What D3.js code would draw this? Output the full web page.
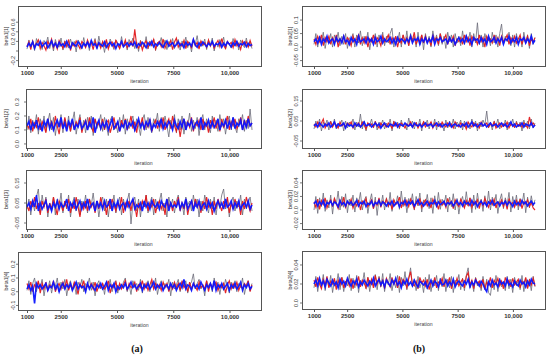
<!DOCTYPE html>
<html><head><meta charset="utf-8">
<script src="https://cdn.jsdelivr.net/npm/d3@7"></script>
<style>
html,body{margin:0;padding:0;background:#fff;}
svg{display:block;}
</style></head>
<body>
<svg id="chart" width="550" height="357"></svg>
<script>
// ---------- DATA ----------
const iterStart = 1000, iterEnd = 11000;
const xTicks = [1000, 2500, 5000, 7500, 10000];
const xTickLabels = ["1000", "2500", "5000", "7500", "10,000"];
const xAxisTitle = "iteration";
const panelNames = ["beta1[1]", "beta1[2]", "beta1[3]", "beta1[4]", "beta2[1]", "beta2[2]", "beta2[3]", "beta2[4]"];
const yLimits = [[-0.3125, 0.9375], [-0.029, 0.393], [-0.08, 0.215], [-0.133, 0.289],
                 [-0.07, 0.152], [-0.085, 0.21], [-0.028, 0.059], [-0.0063, 0.0547]];
const yTicks = [[-0.2, 0, 0.2, 0.4, 0.6], [0, 0.1, 0.2, 0.3], [-0.05, 0.05, 0.15], [-0.1, 0, 0.1, 0.2],
                [-0.05, 0, 0.05, 0.1], [-0.05, 0.05, 0.15], [-0.02, 0, 0.02, 0.04], [0, 0.02, 0.04]];
const yTickLabels = [["-0.2", "", "0.2", "0.4", "0.6"], ["0.0", "0.1", "0.2", "0.3"], ["-0.05", "0.05", "0.15"], ["-0.1", "0.0", "0.1", "0.2"],
                     ["-0.05", "0.0", "0.05", "0.1"], ["-0.05", "0.05", "0.15"], ["-0.02", "0.0", "0.02", "0.04"], ["0.0", "0.02", "0.04"]];
const subLabels = ["(a)", "(b)"];

// chain 1 (black), chain 2 (red), chain 3 (blue); thinned samples
const b11_c1 = [0.04,0.23,0.09,0.2,0.01,0.26,0.12,0.18,0.03,0.22,0.14,0.29,0.05,0.19,0.0,0.24,0.11,0.08,0.27,0.02,0.21,0.15,0.06,0.25,0.1,0.2,-0.02,0.23,0.16,0.04,0.28,0.08,0.19,0.01,0.22,0.13,0.26,0.05,0.31,0.1,0.18,-0.03,0.21,0.07,0.25,0.14,0.03,0.23,0.17,0.06,0.3,0.09,0.2,0.02,0.24,0.12,0.27,0.05,0.19,-0.01,0.22,0.15,0.08,0.3,0.04,0.21,0.1,0.25,0.01,0.18,0.13,0.28,0.06,0.23,0.03,0.2,0.09,0.26,0.05,0.17,0.24,0.02,0.21,0.11,0.29,0.07,0.19,-0.02,0.23,0.14,0.32,0.06,0.2,0.1,0.25,0.03,0.22,0.13,0.27,0.0,0.18,0.08,0.24,0.12,0.29,0.04,0.2,0.15,0.06,0.26,0.1,0.21,0.02,0.23,0.14,0.07,0.27,0.09,0.2,0.05];
const b11_c2 = [0.1,0.19,0.03,0.21,0.08,0.16,0.23,0.05,0.18,0.11,0.02,0.2,0.12,0.25,0.07,0.17,0.04,0.22,0.14,0.06,0.19,0.09,0.24,0.01,0.16,0.1,0.21,0.13,0.05,0.2,0.15,0.07,0.23,0.12,0.18,0.03,0.21,0.09,0.17,0.06,0.2,0.11,0.24,0.04,0.16,0.19,0.08,0.22,0.13,0.05,0.18,0.1,0.23,0.07,0.15,0.2,0.09,0.45,0.12,0.06,0.19,0.02,0.15,0.21,0.07,0.18,0.12,0.24,0.04,0.16,0.2,0.09,0.25,0.06,0.17,0.13,0.22,0.03,0.19,0.27,0.08,0.16,0.1,0.22,0.05,0.2,0.14,0.07,0.24,0.11,0.18,0.04,0.21,0.13,0.17,0.08,0.23,0.1,0.19,0.06,0.15,0.22,0.09,0.26,0.12,0.05,0.2,0.14,0.18,0.07,0.24,0.11,0.16,0.03,0.21,0.13,0.19,0.08,0.22,0.1];
const b11_c3 = [0.08,0.16,0.1,0.19,0.06,0.15,0.12,0.2,0.09,0.14,0.18,0.07,0.13,0.21,0.1,0.16,0.08,0.18,0.11,0.15,0.09,0.2,0.12,0.06,0.17,0.13,0.1,0.19,0.14,0.07,0.16,0.11,0.18,0.09,0.22,0.12,0.15,0.06,0.17,0.13,0.1,0.19,0.08,0.14,0.18,0.11,0.16,0.05,0.15,0.12,0.2,0.09,0.13,0.17,0.1,0.16,0.12,0.19,0.08,0.15,0.11,0.18,0.14,0.07,0.17,0.12,0.2,0.09,0.15,0.11,0.18,0.13,0.08,0.16,0.21,0.1,0.14,0.17,0.09,0.13,0.19,0.11,0.15,0.07,0.18,0.12,0.16,0.1,0.24,0.13,0.08,0.17,0.11,0.19,0.14,0.09,0.16,0.12,0.2,0.1,0.15,0.13,0.18,0.08,0.16,0.11,0.19,0.14,0.09,0.17,0.12,0.2,0.1,0.15,0.13,0.18,0.09,0.16,0.11,0.14];

const b12_c1 = [0.1,0.2,0.08,0.17,0.12,0.21,0.07,0.18,0.11,0.2,0.09,0.16,0.22,0.1,0.19,0.06,0.17,0.13,0.21,0.08,0.18,0.11,0.2,0.09,0.16,0.23,0.07,0.15,0.21,0.1,0.17,0.08,0.19,0.12,0.2,0.06,0.18,0.11,0.15,0.21,0.09,0.19,0.13,0.06,0.17,0.2,0.1,0.15,0.08,0.19,0.12,0.21,0.07,0.18,0.11,0.16,0.2,0.09,0.18,0.13,0.06,0.17,0.21,0.1,0.19,0.12,0.08,0.18,0.14,0.22,0.09,0.19,0.11,0.2,0.13,0.05,0.17,0.12,0.21,0.08,0.18,0.1,0.2,0.07,0.16,0.13,0.22,0.09,0.17,0.11,0.19,0.06,0.16,0.21,0.1,0.18,0.13,0.08,0.2,0.11,0.17,0.09,0.21,0.12,0.18,0.07,0.16,0.2,0.1,0.19,0.12,0.08,0.18,0.14,0.21,0.09,0.17,0.11,0.25,0.1];
const b12_c2 = [0.14,0.11,0.18,0.09,0.15,0.12,0.19,0.1,0.16,0.13,0.08,0.18,0.12,0.16,0.1,0.2,0.13,0.07,0.17,0.11,0.19,0.12,0.15,0.09,0.17,0.11,0.16,0.13,0.19,0.08,0.14,0.17,0.1,0.19,0.12,0.09,0.18,0.13,0.15,0.11,0.18,0.1,0.15,0.17,0.08,0.13,0.19,0.11,0.16,0.09,0.17,0.12,0.18,0.1,0.14,0.2,0.11,0.16,0.08,0.17,0.13,0.19,0.1,0.15,0.12,0.18,0.09,0.14,0.17,0.11,0.16,0.12,0.19,0.1,0.15,0.18,0.11,0.2,0.13,0.09,0.15,0.05,0.14,0.18,0.1,0.16,0.12,0.19,0.09,0.15,0.13,0.17,0.1,0.18,0.12,0.15,0.08,0.17,0.13,0.19,0.11,0.16,0.09,0.18,0.12,0.15,0.2,0.1,0.16,0.13,0.18,0.11,0.14,0.19,0.1,0.17,0.12,0.2,0.13,0.15];
const b12_c3 = [0.13,0.16,0.1,0.15,0.12,0.17,0.11,0.14,0.09,0.16,0.13,0.18,0.11,0.15,0.1,0.14,0.17,0.12,0.19,0.11,0.15,0.09,0.16,0.13,0.18,0.1,0.14,0.12,0.17,0.11,0.13,0.16,0.1,0.15,0.12,0.19,0.08,0.14,0.17,0.11,0.15,0.12,0.16,0.1,0.14,0.18,0.11,0.13,0.16,0.09,0.14,0.12,0.17,0.11,0.15,0.13,0.16,0.1,0.14,0.18,0.12,0.15,0.11,0.16,0.13,0.17,0.1,0.14,0.12,0.16,0.13,0.18,0.11,0.15,0.12,0.16,0.14,0.1,0.17,0.13,0.11,0.16,0.12,0.18,0.1,0.15,0.13,0.17,0.11,0.14,0.16,0.12,0.19,0.1,0.15,0.13,0.17,0.11,0.16,0.12,0.14,0.18,0.1,0.15,0.13,0.17,0.11,0.16,0.12,0.19,0.11,0.15,0.13,0.17,0.1,0.16,0.12,0.18,0.13,0.15];

const b13_c1 = [0.02,0.07,-0.01,0.06,0.01,0.08,0.12,0.0,0.09,0.03,0.08,-0.02,0.05,0.01,0.08,-0.01,0.07,0.03,0.1,0.0,0.06,0.02,0.09,-0.02,0.05,0.08,0.01,0.07,-0.01,0.06,0.03,0.09,0.0,0.07,0.04,0.1,0.02,0.06,-0.02,0.05,0.08,0.01,0.07,-0.02,0.06,0.03,0.09,0.0,0.05,0.08,-0.01,0.07,0.02,0.06,0.1,-0.055,0.05,0.08,0.01,0.07,-0.02,0.06,0.03,0.09,0.0,0.05,0.08,-0.01,0.07,0.02,0.06,0.1,0.01,0.05,-0.02,0.08,0.03,0.07,0.0,0.06,0.09,0.02,0.05,-0.01,0.08,0.04,0.06,0.01,0.09,0.03,0.07,-0.02,0.06,0.01,0.09,0.04,0.0,0.07,0.02,0.08,-0.01,0.06,0.03,0.09,0.12,0.02,0.07,-0.02,0.05,0.08,0.01,0.06,0.03,0.09,-0.01,0.07,0.02,0.05,0.08,0.01];
const b13_c2 = [0.04,0.01,0.06,0.03,0.08,0.02,0.05,-0.01,0.06,0.03,0.07,0.0,0.05,0.02,0.08,0.03,-0.01,0.06,0.04,0.01,0.06,0.03,0.07,0.0,0.05,0.02,0.08,0.03,-0.02,0.05,0.02,0.06,0.01,0.07,0.03,0.05,0.0,0.06,0.02,0.08,0.03,0.05,-0.01,0.06,0.02,0.07,0.04,0.01,0.05,0.03,0.08,0.0,0.05,0.03,0.06,0.01,0.07,0.04,-0.02,0.05,0.02,0.06,0.03,0.09,0.01,0.05,0.03,0.07,0.0,0.04,0.06,0.02,0.05,-0.01,0.07,0.03,0.05,0.01,0.06,0.03,0.08,0.01,0.05,0.02,0.07,-0.01,0.04,0.06,0.02,0.07,0.03,0.05,0.0,0.06,0.02,0.08,0.03,0.05,-0.01,0.06,0.02,0.07,0.04,0.01,0.06,0.03,0.08,0.0,0.05,0.02,0.07,0.03,0.05,-0.01,0.06,0.02,0.08,0.04,0.01,0.05];
const b13_c3 = [0.03,0.05,0.02,0.06,0.03,0.09,0.01,0.05,0.02,0.04,0.06,0.02,0.04,0.01,0.05,0.03,0.06,0.02,0.05,0.03,0.04,0.07,0.01,0.05,0.03,0.06,0.02,0.04,0.06,0.02,0.05,0.03,0.07,0.02,0.04,0.05,0.01,0.06,0.03,0.05,0.02,0.06,0.03,0.04,0.07,0.01,0.05,0.03,0.06,0.02,0.04,0.05,0.02,0.06,0.03,0.05,0.07,0.02,0.04,0.03,0.05,0.01,0.06,0.03,0.05,0.02,0.06,0.04,0.03,0.05,0.02,0.06,0.04,0.03,0.07,0.01,0.05,0.03,0.04,0.03,0.06,0.02,0.05,0.03,0.07,0.02,0.04,0.06,0.01,0.05,0.03,0.06,0.02,0.04,0.05,0.02,0.06,0.03,0.05,0.01,0.04,0.06,0.03,0.05,0.02,0.07,0.03,0.04,0.06,0.02,0.05,0.03,0.06,0.02,0.04,0.05,0.03,0.06,0.02,0.04];

const b14_c1 = [0.01,0.08,-0.02,0.06,0.1,0.0,0.07,0.03,0.09,-0.03,0.05,0.02,0.08,-0.01,0.06,0.04,0.1,0.0,0.07,0.02,0.09,-0.03,0.05,0.08,0.01,0.06,-0.02,0.07,0.03,0.09,0.0,0.06,0.04,0.1,0.01,0.07,-0.03,0.05,0.08,0.02,0.06,-0.02,0.07,0.03,0.09,0.0,0.05,0.08,-0.01,0.06,0.02,0.07,0.1,0.0,0.05,-0.02,0.08,0.03,0.06,0.01,0.09,-0.01,0.06,0.03,0.08,0.0,0.07,0.02,0.1,-0.02,0.05,0.08,0.01,0.06,0.03,0.09,-0.03,0.07,0.02,0.05,0.09,0.0,0.06,0.04,0.08,-0.01,0.05,0.07,0.13,0.02,0.06,0.09,0.02,0.05,-0.03,0.08,0.04,0.06,0.0,0.1,0.03,0.07,-0.02,0.06,0.01,0.09,0.04,-0.01,0.07,0.02,0.08,0.0,0.06,0.03,0.1,-0.02,0.05,0.08,0.01,0.06];
const b14_c2 = [0.06,0.02,0.07,0.0,0.05,0.03,0.08,-0.01,0.06,0.02,0.07,0.01,0.05,0.03,0.08,0.0,0.04,0.06,0.02,0.07,0.03,0.09,0.01,0.05,0.02,0.07,0.04,-0.02,0.06,0.03,0.08,0.01,0.05,0.03,0.06,0.02,0.07,0.0,0.05,0.03,0.06,0.02,0.04,0.08,-0.01,0.05,0.03,0.07,0.01,0.06,0.02,0.05,0.08,0.01,0.06,0.03,0.04,0.07,0.0,0.05,0.03,0.08,0.02,0.06,0.01,0.05,0.09,0.02,0.06,0.03,0.05,0.01,0.07,0.03,0.06,0.0,0.05,0.02,0.07,0.03,0.06,0.01,0.08,0.03,0.05,0.0,0.07,0.02,0.06,0.04,0.01,0.07,0.03,0.05,0.02,0.08,0.0,0.06,0.03,0.05,0.07,0.01,0.05,0.03,0.06,-0.01,0.05,0.08,0.02,0.06,0.03,0.07,0.01,0.05,0.02,0.06,0.04,0.08,0.0,0.05];
const b14_c3 = [0.02,0.05,0.01,0.04,-0.085,0.06,0.03,0.05,0.02,0.04,0.06,0.01,0.04,0.03,0.07,0.02,0.05,0.0,0.04,0.06,0.02,0.05,0.03,0.06,0.01,0.04,0.07,0.02,0.05,0.03,0.04,0.0,0.06,0.02,0.05,0.03,0.01,0.05,0.03,0.06,0.02,0.04,0.07,0.01,0.05,0.03,0.06,0.0,0.04,0.02,0.05,0.03,0.06,0.02,0.04,0.07,0.03,0.05,0.02,0.04,0.06,0.01,0.05,0.03,0.06,0.02,0.04,0.07,0.02,0.05,0.03,0.06,0.01,0.04,0.05,0.02,0.06,0.03,0.05,0.01,0.04,0.06,0.03,0.09,0.02,0.05,0.04,0.01,0.06,0.03,0.05,0.02,0.07,0.04,0.01,0.05,0.03,0.06,0.02,0.08,0.01,0.05,0.03,0.06,0.02,0.04,0.06,0.01,0.05,0.03,0.06,0.02,0.04,0.07,0.01,0.05,0.03,0.06,0.02,0.04];

const b21_c1 = [0.01,0.05,0.0,0.04,0.02,0.055,-0.005,0.035,0.015,0.05,0.0,0.045,0.02,0.055,0.005,0.04,0.01,0.05,-0.005,0.035,0.025,0.05,0.0,0.045,0.015,0.06,0.005,0.04,0.02,0.055,-0.01,0.035,0.015,0.05,0.0,0.045,0.02,0.055,0.005,0.04,0.015,0.05,0.07,0.0,0.04,0.02,0.055,0.0,0.045,0.01,0.06,0.005,0.05,0.02,0.04,0.0,0.055,0.01,0.045,-0.01,0.05,0.015,0.04,0.0,0.06,0.02,0.045,0.005,0.05,0.01,0.04,-0.005,0.055,0.02,0.045,0.0,0.05,0.015,0.04,0.005,0.06,0.01,0.045,0.02,0.055,0.0,0.05,0.015,0.09,0.01,0.045,0.0,0.05,0.02,0.04,0.005,0.055,0.015,0.045,0.0,0.05,0.085,0.01,0.04,0.02,0.055,0.005,0.045,0.0,0.05,0.015,0.04,0.0,0.055,0.015,0.045,-0.005,0.05,0.01,0.035];
const b21_c2 = [0.03,0.01,0.04,0.02,0.045,0.005,0.035,0.02,0.04,0.01,0.035,0.015,0.045,0.0,0.03,0.02,0.04,0.01,0.035,0.025,0.005,0.04,0.02,0.03,0.045,0.01,0.035,0.015,0.04,0.0,0.03,0.02,0.045,0.01,0.035,0.025,0.005,0.04,0.02,0.03,0.045,0.01,0.035,0.02,0.04,0.0,0.03,0.015,0.045,0.02,0.035,0.005,0.04,0.025,0.055,0.01,0.03,0.02,0.045,0.015,0.04,0.02,0.03,0.005,0.045,0.025,0.035,0.01,0.05,0.02,0.03,0.045,0.01,0.035,0.02,0.04,0.005,0.03,0.02,0.035,0.01,0.045,0.02,0.035,0.005,0.04,0.025,0.03,0.01,0.045,0.02,0.035,0.0,0.04,0.025,0.03,0.015,0.045,0.02,0.035,0.005,0.04,0.02,0.03,0.045,0.01,0.035,0.02,0.04,0.015,0.03,0.045,0.01,0.035,0.02,0.04,0.005,0.03,0.02,0.035];
const b21_c3 = [0.02,0.03,0.015,0.035,0.01,0.03,0.02,0.04,0.015,0.025,0.03,0.01,0.035,0.02,0.03,0.015,0.04,0.02,0.025,0.01,0.035,0.02,0.03,0.01,0.04,0.02,0.025,0.03,0.015,0.035,0.02,0.03,0.01,0.035,0.02,0.025,0.04,0.015,0.03,0.02,0.025,0.035,0.015,0.03,0.01,0.035,0.02,0.03,0.025,0.015,0.03,0.02,0.04,0.015,0.03,0.025,0.035,0.01,0.03,0.02,0.035,0.015,0.03,0.02,0.04,0.01,0.03,0.025,0.035,0.02,0.025,0.03,0.015,0.035,0.02,0.03,0.01,0.025,0.035,0.02,0.03,0.015,0.04,0.02,0.03,0.01,0.035,0.025,0.03,0.015,0.035,0.02,0.03,0.01,0.04,0.02,0.025,0.035,0.015,0.03,0.02,0.035,0.01,0.03,0.025,0.04,0.015,0.03,0.02,0.035,0.01,0.03,0.025,0.035,0.015,0.03,0.02,0.04,0.015,0.025];

const b22_c1 = [0.01,0.05,0.02,0.06,0.0,0.045,0.025,0.055,0.005,0.05,0.02,0.06,0.01,0.04,0.03,0.055,0.0,0.05,0.015,0.045,0.025,0.06,0.005,0.045,0.02,0.085,0.01,0.05,0.0,0.04,0.03,0.06,0.015,0.05,0.005,0.045,0.025,0.055,0.01,0.04,0.02,0.06,0.0,0.05,0.03,0.045,0.01,0.055,0.02,0.04,0.005,0.065,0.025,0.05,0.01,0.045,0.02,0.06,0.0,0.05,0.03,0.055,0.01,0.045,0.02,0.06,0.005,0.05,0.025,0.04,0.0,0.055,0.015,0.05,0.02,0.06,0.01,0.045,0.03,0.055,0.005,0.05,0.02,0.045,0.01,0.06,0.025,0.05,0.0,0.045,0.02,0.055,0.03,0.1,0.015,0.045,0.005,0.05,0.025,0.06,0.01,0.04,0.02,0.055,0.005,0.045,0.025,0.06,0.015,0.05,0.02,0.045,0.0,0.055,0.02,0.05,0.01,0.06,0.015,0.04];
const b22_c2 = [0.035,0.02,0.045,0.025,0.04,0.06,0.015,0.035,0.03,0.045,0.02,0.04,0.03,0.015,0.045,0.025,0.035,0.02,0.04,0.03,0.045,0.015,0.035,0.025,0.04,0.02,0.045,0.03,0.01,0.04,0.025,0.035,0.02,0.045,0.03,0.015,0.04,0.025,0.035,0.02,0.04,0.03,0.015,0.045,0.025,0.035,0.02,0.04,0.03,0.015,0.035,0.025,0.045,0.02,0.03,0.04,0.015,0.035,0.025,0.045,0.02,0.035,0.03,0.045,0.015,0.04,0.025,0.035,0.02,0.045,0.03,0.02,0.04,0.025,0.035,0.015,0.045,0.03,0.02,0.04,0.025,0.035,0.01,0.045,0.03,0.02,0.04,0.025,0.035,0.015,0.045,0.025,0.03,0.04,0.02,0.035,0.025,0.045,0.015,0.03,0.04,0.02,0.035,0.025,0.045,0.015,0.035,0.03,0.02,0.04,0.025,0.035,0.02,0.04,0.03,0.015,0.07,0.03,0.04,0.025];
const b22_c3 = [0.025,0.035,0.02,0.04,0.03,0.02,0.035,0.025,0.04,0.02,0.03,0.045,0.02,0.035,0.025,0.03,0.04,0.015,0.035,0.025,0.03,0.02,0.04,0.025,0.035,0.02,0.03,0.045,0.025,0.03,0.035,0.02,0.03,0.04,0.025,0.035,0.015,0.03,0.04,0.025,0.02,0.035,0.03,0.025,0.04,0.02,0.035,0.03,0.025,0.04,0.03,0.025,0.035,0.02,0.04,0.03,0.025,0.035,0.02,0.03,0.04,0.025,0.03,0.035,0.02,0.03,0.04,0.025,0.035,0.02,0.03,0.035,0.025,0.04,0.02,0.03,0.035,0.025,0.03,0.02,0.035,0.025,0.04,0.02,0.03,0.045,0.025,0.035,0.02,0.03,0.04,0.025,0.035,0.02,0.03,0.04,0.025,0.03,0.035,0.02,0.03,0.04,0.025,0.035,0.02,0.03,0.045,0.025,0.035,0.02,0.03,0.025,0.04,0.02,0.035,0.03,0.025,0.04,0.02,0.03];

const b23_c1 = [0.0,0.02,-0.005,0.018,0.005,0.025,-0.002,0.015,0.003,0.022,-0.006,0.018,0.008,0.028,0.0,0.02,0.004,0.024,-0.004,0.016,0.006,0.022,-0.003,0.018,0.01,0.026,0.0,0.014,0.02,-0.005,0.012,0.024,0.002,0.019,-0.008,0.016,0.006,0.022,0.0,0.018,0.004,0.026,-0.002,0.015,0.008,0.021,0.001,0.028,0.005,0.019,-0.004,0.017,0.009,0.024,0.0,0.02,0.006,0.025,-0.003,0.015,0.007,0.023,0.002,0.018,-0.005,0.021,0.004,0.026,0.001,0.016,0.008,0.022,-0.003,0.019,0.005,0.024,0.0,0.017,-0.006,0.012,0.02,0.003,0.027,0.006,0.018,-0.004,0.022,0.001,0.025,0.007,0.016,-0.002,0.021,0.004,0.028,0.0,0.019,0.006,0.023,-0.005,0.014,0.024,0.002,0.018,0.008,0.026,-0.003,0.02,0.005,0.022,0.0,0.017,0.009,0.025,-0.004,0.019,0.003,0.021,0.006,0.015];
const b23_c2 = [0.012,0.004,0.016,0.001,0.014,0.008,0.018,0.003,0.011,0.015,0.005,0.017,0.009,0.002,0.014,0.007,0.019,0.004,0.012,0.008,0.016,0.003,0.011,0.006,0.015,0.0,0.013,0.009,0.017,0.005,0.01,0.015,0.002,0.012,0.007,0.018,0.004,0.013,0.009,0.016,0.006,0.012,0.001,0.015,0.008,0.011,0.019,0.003,0.013,0.007,0.014,0.005,0.016,0.009,0.002,0.013,0.008,0.017,0.004,0.011,0.015,0.006,0.012,0.003,0.016,0.009,0.011,0.001,0.014,0.007,0.012,0.004,0.017,0.008,0.013,0.002,0.015,0.009,0.005,0.016,0.01,0.003,0.014,0.007,0.018,0.004,0.012,0.009,0.015,0.002,0.013,0.006,0.017,0.01,0.004,0.014,0.008,0.016,0.003,0.012,0.009,0.015,0.005,0.013,0.001,0.017,0.008,0.011,0.004,0.014,0.007,0.016,0.002,0.012,0.009,0.015,0.005,0.011,0.003,0.0];
const b23_c3 = [0.009,0.013,0.006,0.012,0.008,0.014,0.005,0.011,0.009,0.013,0.007,0.012,0.01,0.005,0.014,0.008,0.011,0.006,0.013,0.009,0.012,0.007,0.01,0.014,0.006,0.011,0.009,0.013,0.005,0.01,0.008,0.013,0.006,0.011,0.009,0.014,0.007,0.012,0.01,0.006,0.011,0.008,0.013,0.006,0.01,0.012,0.005,0.011,0.009,0.014,0.007,0.012,0.009,0.013,0.006,0.01,0.015,0.008,0.011,0.006,0.01,0.013,0.007,0.011,0.009,0.014,0.006,0.012,0.008,0.01,0.013,0.007,0.011,0.009,0.012,0.006,0.01,0.014,0.008,0.011,0.006,0.013,0.009,0.011,0.007,0.014,0.008,0.012,0.005,0.01,0.013,0.008,0.011,0.006,0.012,0.009,0.014,0.007,0.01,0.012,0.006,0.011,0.009,0.013,0.007,0.012,0.01,0.005,0.013,0.008,0.011,0.007,0.014,0.009,0.012,0.006,0.01,0.013,0.008,0.011];

const b24_c1 = [0.016,0.028,0.012,0.025,0.018,0.03,0.013,0.026,0.017,0.029,0.011,0.024,0.019,0.031,0.014,0.027,0.012,0.023,0.018,0.03,0.013,0.026,0.016,0.029,0.011,0.024,0.02,0.032,0.015,0.027,0.012,0.025,0.018,0.03,0.014,0.028,0.017,0.031,0.012,0.026,0.019,0.031,0.013,0.024,0.016,0.029,0.011,0.027,0.018,0.033,0.014,0.026,0.037,0.017,0.025,0.013,0.028,0.016,0.023,0.011,0.027,0.015,0.03,0.012,0.024,0.018,0.029,0.013,0.026,0.017,0.031,0.012,0.025,0.016,0.028,0.011,0.024,0.019,0.03,0.014,0.026,0.013,0.029,0.037,0.016,0.024,0.012,0.027,0.018,0.023,0.013,0.028,0.015,0.025,0.011,0.008,0.024,0.014,0.029,0.012,0.026,0.017,0.022,0.013,0.028,0.015,0.025,0.011,0.027,0.018,0.024,0.014,0.029,0.012,0.026,0.016,0.025,0.013,0.028,0.017];
const b24_c2 = [0.024,0.017,0.027,0.02,0.015,0.025,0.019,0.028,0.016,0.023,0.02,0.026,0.014,0.024,0.019,0.027,0.016,0.022,0.025,0.018,0.026,0.015,0.023,0.019,0.028,0.017,0.024,0.021,0.016,0.027,0.019,0.025,0.016,0.029,0.02,0.026,0.018,0.024,0.015,0.026,0.021,0.017,0.027,0.02,0.024,0.016,0.028,0.019,0.025,0.022,0.016,0.026,0.033,0.02,0.018,0.023,0.015,0.027,0.021,0.024,0.018,0.025,0.014,0.023,0.019,0.027,0.016,0.022,0.02,0.026,0.017,0.024,0.02,0.027,0.015,0.023,0.019,0.026,0.018,0.022,0.025,0.016,0.028,0.032,0.019,0.024,0.015,0.026,0.02,0.023,0.017,0.025,0.014,0.022,0.019,0.027,0.016,0.024,0.02,0.026,0.018,0.023,0.015,0.027,0.021,0.024,0.017,0.026,0.019,0.022,0.025,0.016,0.023,0.02,0.027,0.015,0.024,0.019,0.026,0.018];
const b24_c3 = [0.02,0.024,0.018,0.026,0.019,0.023,0.017,0.025,0.021,0.018,0.024,0.019,0.022,0.016,0.025,0.02,0.023,0.018,0.026,0.021,0.018,0.023,0.02,0.025,0.017,0.022,0.019,0.024,0.021,0.018,0.023,0.02,0.026,0.018,0.022,0.025,0.019,0.023,0.017,0.024,0.021,0.018,0.024,0.02,0.026,0.019,0.022,0.016,0.023,0.02,0.025,0.019,0.022,0.018,0.024,0.02,0.017,0.023,0.021,0.019,0.022,0.016,0.02,0.024,0.018,0.023,0.021,0.017,0.024,0.019,0.02,0.024,0.018,0.022,0.019,0.025,0.017,0.021,0.023,0.02,0.018,0.023,0.02,0.025,0.017,0.022,0.019,0.024,0.021,0.018,0.023,0.02,0.015,0.012,0.022,0.018,0.024,0.019,0.021,0.017,0.024,0.02,0.022,0.018,0.025,0.019,0.021,0.017,0.023,0.02,0.018,0.024,0.02,0.022,0.017,0.023,0.019,0.025,0.021,0.02];

const chains = [
  [b11_c1, b11_c2, b11_c3], [b12_c1, b12_c2, b12_c3], [b13_c1, b13_c2, b13_c3], [b14_c1, b14_c2, b14_c3],
  [b21_c1, b21_c2, b21_c3], [b22_c1, b22_c2, b22_c3], [b23_c1, b23_c2, b23_c3], [b24_c1, b24_c2, b24_c3]
];

// ---------- LAYOUT ----------
const chainColors = ["#6a6a78", "#e31a1c", "#0a14ff"];
const chainWidths = [1.0, 1.15, 1.6];
const layout = [
  {f:[18, 6, 261, 66],  xr:[27, 252], tx:6,  lx:13},
  {f:[26, 89, 261, 148], xr:[27, 252], tx:6, lx:17},
  {f:[26, 170, 261, 229], xr:[27, 252], tx:6, lx:17},
  {f:[18, 252, 261, 310], xr:[27, 252], tx:6, lx:13},
  {f:[302, 6, 545, 66], xr:[314, 535], tx:290, lx:296},
  {f:[302, 89, 545, 148], xr:[314, 535], tx:290, lx:296},
  {f:[302, 170, 545, 229], xr:[314, 535], tx:290, lx:296},
  {f:[302, 251, 545, 309], xr:[314, 535], tx:290, lx:296}
];

const svg = d3.select("#chart");
const font = "'Liberation Sans', Arial, sans-serif";

layout.forEach((L, p) => {
  const [x0, y0, x1, y1] = L.f;
  const x = d3.scaleLinear().domain([iterStart, iterEnd]).range(L.xr);
  const y = d3.scaleLinear().domain(yLimits[p]).range([y1, y0]);
  const g = svg.append("g");

  chains[p].forEach((vals, c) => {
    const n = vals.length;
    const line = d3.line()
      .x((d, i) => x(iterStart + i * (iterEnd - iterStart) / (n - 1)))
      .y(d => y(d));
    g.append("path").datum(vals)
      .attr("d", line)
      .attr("fill", "none")
      .attr("stroke", chainColors[c])
      .attr("stroke-width", chainWidths[c])
      .attr("stroke-linejoin", "miter")
      .attr("opacity", c === 0 ? 0.8 : 0.95);
  });

  g.append("rect").attr("x", x0 + 0.5).attr("y", y0 + 0.5)
    .attr("width", x1 - x0).attr("height", y1 - y0)
    .attr("fill", "none").attr("stroke", "#555").attr("stroke-width", 1);

  const xa = g.append("g").attr("transform", `translate(0,${y1 + 0.5})`)
    .call(d3.axisBottom(x).tickValues(xTicks).tickSize(2.5).tickPadding(1.5)
      .tickFormat((d, i) => xTickLabels[i]));
  xa.select(".domain").remove();
  xa.selectAll("line").attr("stroke", "#555");
  xa.selectAll("text").attr("font-family", font).attr("font-size", 6).attr("font-weight", "bold").attr("fill", "#333");

  g.append("text").attr("x", (x0 + x1) / 2).attr("y", y1 + 17)
    .attr("text-anchor", "middle").attr("font-family", font).attr("font-size", 5.2)
    .attr("fill", "#444").text(xAxisTitle);

  yTicks[p].forEach((t, i) => {
    const yy = y(t);
    g.append("line").attr("x1", x0).attr("x2", x0 - 2).attr("y1", yy).attr("y2", yy)
      .attr("stroke", "#555").attr("stroke-width", 0.8);
    if (yTickLabels[p][i]) {
      g.append("text").attr("transform", `translate(${L.lx},${yy}) rotate(-90)`)
        .attr("text-anchor", "middle").attr("dy", "0.35em")
        .attr("font-family", font).attr("font-size", 5.6).attr("fill", "#333")
        .text(yTickLabels[p][i]);
    }
  });
  g.append("text").attr("transform", `translate(${L.tx},${(y0 + y1) / 2}) rotate(-90)`)
    .attr("text-anchor", "middle").attr("dy", "0.35em")
    .attr("font-family", font).attr("font-size", 5.2).attr("fill", "#333")
    .text(panelNames[p]);
});

svg.append("text").attr("x", 137).attr("y", 352).attr("text-anchor", "middle")
  .attr("font-family", "'Liberation Serif', 'Times New Roman', serif").attr("font-size", 10)
  .attr("font-weight", "bold").attr("fill", "#111").text(subLabels[0]);
svg.append("text").attr("x", 419).attr("y", 352).attr("text-anchor", "middle")
  .attr("font-family", "'Liberation Serif', 'Times New Roman', serif").attr("font-size", 10)
  .attr("font-weight", "bold").attr("fill", "#111").text(subLabels[1]);
</script>
</body></html>
